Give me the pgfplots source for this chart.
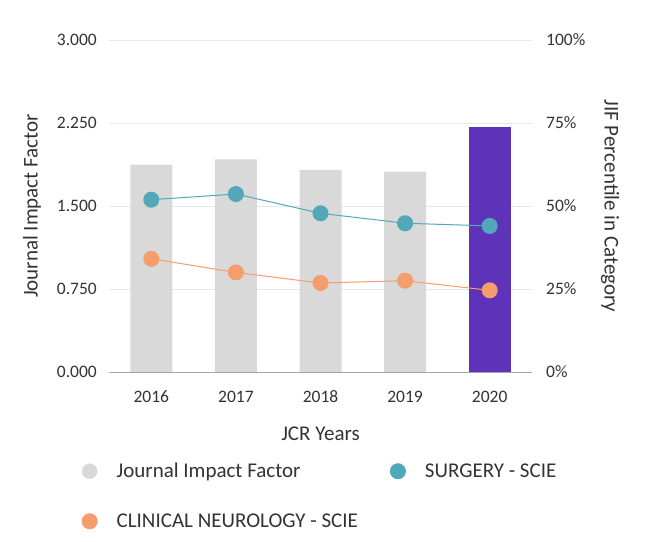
\documentclass[border=0pt]{standalone}
\usepackage{pgfplots}
\pgfplotsset{compat=1.18}
\usepackage{fontspec}
\setmainfont{Carlito}
\definecolor{jifgray}{HTML}{D9D9D9}
\definecolor{jifpurple}{HTML}{5E33BA}
\definecolor{tealc}{HTML}{52A8B9}
\definecolor{orangec}{HTML}{F59D6C}
\definecolor{gridc}{HTML}{E8E8E8}
\definecolor{axisc}{HTML}{A6A6A6}
\definecolor{txt}{HTML}{333333}
\begin{document}
\begin{tikzpicture}
\useasboundingbox (0,0) rectangle (656bp,542bp);
\begin{axis}[
  at={(109bp,170bp)}, anchor=south west,
  scale only axis, width=423bp, height=332bp,
  xmin=-0.5, xmax=4.5, ymin=0, ymax=3,
  xtick={0,1,2,3,4}, xticklabels={2016,2017,2018,2019,2020},
  ytick={0,0.75,1.5,2.25,3},
  /pgf/number format/assume math mode=true,
  yticklabel style={/pgf/number format/fixed, /pgf/number format/fixed zerofill, /pgf/number format/precision=3,
    anchor=east, inner sep=0pt, xshift=-12bp},
  axis x line*=bottom, axis y line*=left,
  x axis line style={draw=axisc, line width=0.9bp, -},
  y axis line style={draw=none},
  major tick length=0pt,
  ymajorgrids, grid style={draw=gridc, line width=0.8bp},
  tick label style={font=\fontsize{17.5bp}{20bp}\selectfont, text=txt},
  xticklabel style={anchor=center, yshift=-25bp},
  every axis x label/.style={at={(axis description cs:0.5,0)}, anchor=center, yshift=-62bp, font=\fontsize{21bp}{24bp}\selectfont, text=txt},
  every axis y label/.style={at={(axis description cs:0,0.5)}, anchor=center, xshift=-77bp, rotate=90, font=\fontsize{21bp}{24bp}\selectfont, text=txt},
  xlabel={JCR Years},
  ylabel={Journal Impact Factor},
]
\addplot[ybar, bar width=42bp, bar shift=0pt, fill=jifgray, draw=none] coordinates {(0,1.874) (1,1.922) (2,1.826) (3,1.810)};
\addplot[ybar, bar width=42bp, bar shift=0pt, fill=jifpurple, draw=none] coordinates {(4,2.211)};
\end{axis}
\begin{axis}[
  at={(109bp,170bp)}, anchor=south west,
  scale only axis, width=423bp, height=332bp,
  xmin=-0.5, xmax=4.5, ymin=0, ymax=100,
  hide x axis,
  axis y line*=right,
  y axis line style={draw=none},
  major tick length=0pt,
  ytick={0,25,50,75,100},
  yticklabels={0\%,25\%,50\%,75\%,100\%},
  tick label style={font=\fontsize{17.5bp}{20bp}\selectfont, text=txt},
  yticklabel style={anchor=west, inner sep=0pt, xshift=14bp},
  every axis y label/.style={at={(axis description cs:1,0.5)}, anchor=center, xshift=78bp, rotate=-90, font=\fontsize{21bp}{24bp}\selectfont, text=txt},
  ylabel={JIF Percentile in Category},
  legend columns=2,
  legend cell align=left,
  legend style={at={(axis description cs:0,0)}, anchor=north west, xshift=-30.5bp, yshift=-89bp,
    draw=none, fill=none, font=\fontsize{21bp}{24bp}\selectfont, text=txt,
    row sep=34bp,
    nodes={inner sep=0pt},
    /tikz/column 2/.style={column sep=32bp},
    /tikz/column 1/.style={column sep=19bp},
    /tikz/column 3/.style={column sep=19bp}},
]
\addlegendimage{legend image code/.code={\fill[jifgray] (0bp,0bp) circle (7.5bp);}}
\addlegendentry{Journal Impact Factor}
\addplot[color=tealc, line width=1bp, mark=*, mark size=7.5bp, mark options={fill=tealc, draw=none},
  legend image code/.code={\fill[tealc] (0bp,0bp) circle (7.5bp);}]
  coordinates {(0,51.9) (1,53.6) (2,47.8) (3,44.8) (4,44.0)};
\addlegendentry{SURGERY - SCIE}
\addplot[color=orangec, line width=1bp, mark=*, mark size=7.5bp, mark options={fill=orangec, draw=none},
  legend image code/.code={\fill[orangec] (0bp,0bp) circle (7.5bp);}]
  coordinates {(0,34.1) (1,30.0) (2,26.8) (3,27.5) (4,24.6)};
\addlegendentry{CLINICAL NEUROLOGY - SCIE}
\end{axis}
\end{tikzpicture}
\end{document}
